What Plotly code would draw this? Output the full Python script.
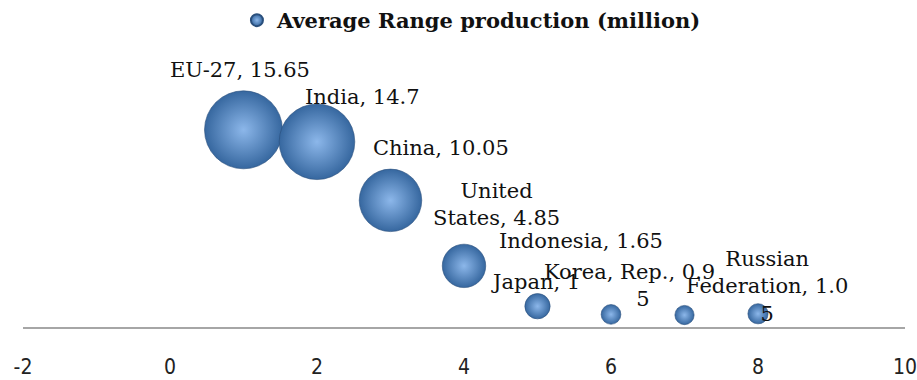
import plotly.graph_objects as go

countries = ["EU-27", "India", "China", "United States", "Indonesia", "Japan", "Korea, Rep.", "Russian Federation"]
x_pos = [1, 2, 3, 4, 5, 6, 7, 8]
production = [15.65, 14.7, 10.05, 4.85, 1.65, 1, 0.95, 1.05]
label_texts = ["EU-27, 15.65", "India, 14.7", "China, 10.05", "United<br>States, 4.85",
               "Indonesia, 1.65", "Japan, 1", "Korea, Rep., 0.9<br>&nbsp;&nbsp;&nbsp;&nbsp;5",
               "Russian<br>Federation, 1.0<br>5"]
x_ticks = [-2, 0, 2, 4, 6, 8, 10]
series_name = "Average Range production (million)"

# label pixel offsets (style only)
label_shift = [(-4, 60), (45, 45), (50, 52), (32, 61), (43, 65), (-76, 32), (-55, 30), (9, 27)]

max_diam = 78
sizeref = 2.0 * max(production) / (max_diam ** 2)

fig = go.Figure()
fig.add_trace(go.Scatter(
    x=x_pos, y=production, mode="markers", name=series_name,
    marker=dict(size=production, sizemode="area", sizeref=sizeref,
                color="#36679f",
                gradient=dict(type="radial", color="#8cb7ea"),
                line=dict(width=0.6, color="#2a4f7c"),
                opacity=1),
    showlegend=True,
))

for xv, yv, t, (dx, dy) in zip(x_pos, production, label_texts, label_shift):
    fig.add_annotation(x=xv, y=yv, text=t, showarrow=False, xshift=dx, yshift=dy,
                       xanchor="center", yanchor="middle", align="center",
                       font=dict(family="DejaVu Serif, serif", size=21, color="#111111"))

fig.update_layout(
    width=917, height=380,
    margin=dict(l=23, r=12, t=75, b=53, autoexpand=False),
    paper_bgcolor="white", plot_bgcolor="white",
    legend=dict(orientation="h", x=0.509, xanchor="center", xref="paper",
                y=1.0, yref="container", yanchor="top",
                font=dict(family="DejaVu Serif, serif", size=21, color="#111111", weight="bold"),
                itemsizing="constant", bgcolor="rgba(0,0,0,0)"),
    xaxis=dict(range=[-2, 10], tickvals=x_ticks, ticktext=[str(v) for v in x_ticks],
               showgrid=False, zeroline=False, showline=True, linecolor="#a6a6a6", linewidth=1.5,
               ticks="", ticklabelstandoff=20, ticklabeloverflow="allow",
               tickfont=dict(family="Liberation Sans Narrow, DejaVu Sans Condensed, sans-serif", size=21, color="#222222")),
    yaxis=dict(range=[0, 20], visible=False, showgrid=False, zeroline=False),
)

fig.write_html("out.html")
